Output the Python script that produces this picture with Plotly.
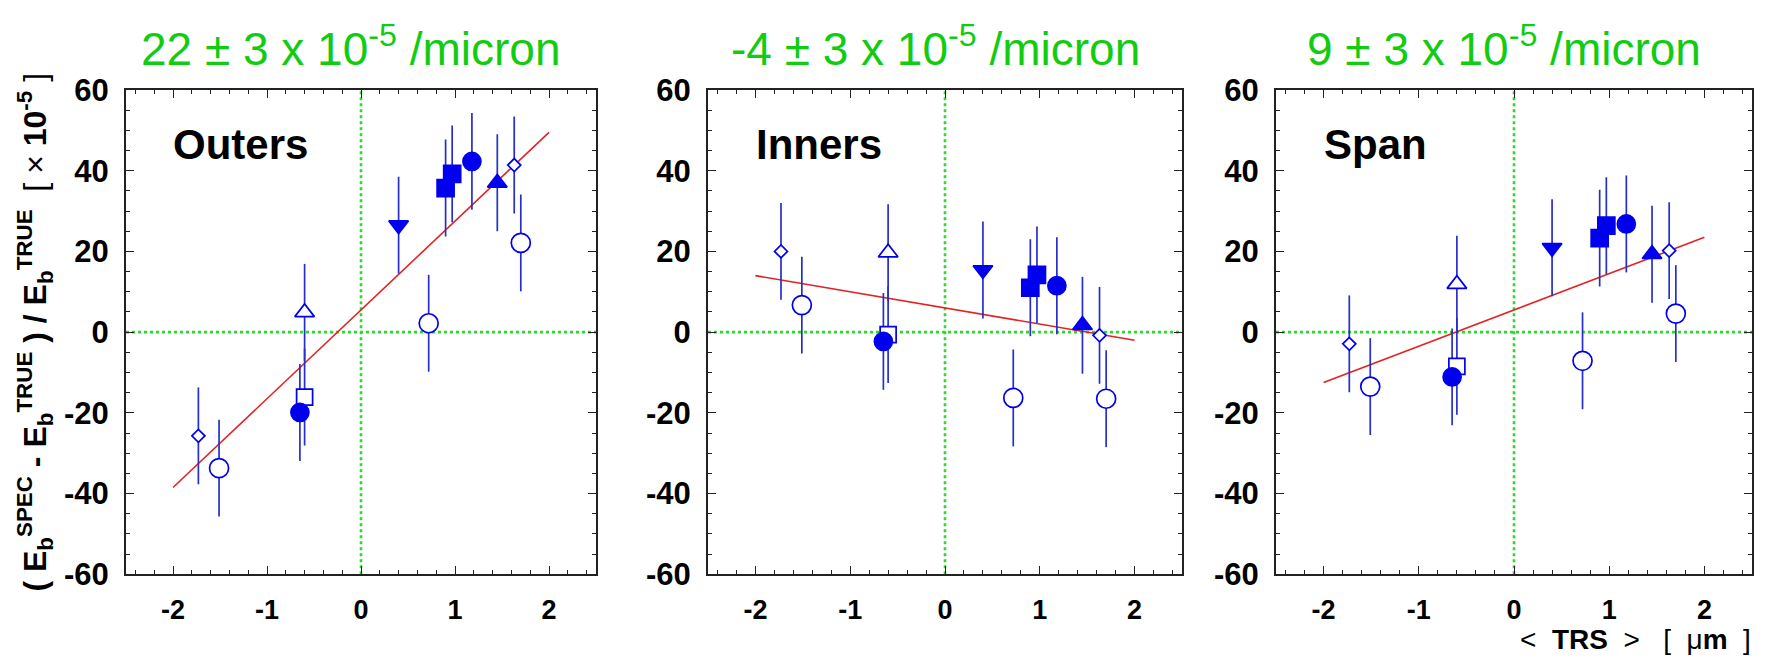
import plotly.graph_objects as go

W, H = 1766, 670

# Mean transverse position <TRS> [um] of each data set (shared by all panels)
trs = [-1.73, -1.51, -0.60, -0.60, -0.65, 0.40, 0.72, 0.90, 0.97, 1.18, 1.45, 1.63, 1.70]

# (E_spec - E_true) / E_true  [x 1e-5]
outers = [-25.7, -33.7, 4.9, -16.1, -19.9, 26.5, 2.2, 35.7, 39.2, 42.3, 37.0, 41.4, 22.1]
inners = [20.0, 6.7, 19.7, -0.6, -2.3, 15.4, -16.3, 11.0, 14.2, 11.5, 1.7, -0.8, -16.5]
span = [-2.9, -13.5, 11.9, -8.5, -11.1, 20.9, -7.1, 23.3, 26.4, 26.8, 19.3, 20.2, 4.6]

outers_err = [12.0, 12.0, 12.0, 12.0, 12.0, 12.0, 12.0, 12.0, 12.0, 12.0, 12.0, 12.0, 12.0]
inners_err = [12.0, 12.0, 12.0, 12.0, 12.0, 12.0, 12.0, 12.0, 12.0, 12.0, 12.0, 12.0, 12.0]
span_err = [12.0, 12.0, 12.0, 12.0, 12.0, 12.0, 12.0, 12.0, 12.0, 12.0, 12.0, 12.0, 12.0]

# Linear fits: slope [1e-5 / micron] and intercept
panel_names = ["Outers", "Inners", "Span"]
fit_slope = [22, -4, 9]
fit_slope_err = [3, 3, 3]
fit_intercept = [5.5, 6.0, 5.5]
fit_x = [-2.0, 2.0]

# Axis ticks (labels use a plain hyphen for negatives)
x_ticks = [-2, -1, 0, 1, 2]
x_ticklabels = ["-2", "-1", "0", "1", "2"]
y_ticks = [-60, -40, -20, 0, 20, 40, 60]
y_ticklabels = ["-60", "-40", "-20", "0", "20", "40", "60"]

# Marker style per data set
symbols = ["diamond", "circle", "triangle-up", "square", "circle", "triangle-down",
           "circle", "square", "square", "circle", "triangle-up", "diamond", "circle"]
filled = [False, False, False, False, True, True, False, True, True, True, True, False, False]
sizes = [10, 19, 17, 16, 18, 17, 19, 17, 17, 18, 17, 10, 19]

BLUE = "#0000ee"
BAR_BLUE = "#2630c8"
RED = "#e02424"
GREEN = "#2ed82e"
TITLE_GREEN = "#11cc11"
FONT = "Liberation Sans, Arial, sans-serif"

# panel frames in pixels
x_doms_px = [(126, 596), (708, 1182), (1276, 1752)]
y_dom_px = (77, 588)


def px_x(p):
    return p / W


def px_y(p):
    return 1 - p / H


fig = go.Figure()
datasets = [(outers, outers_err), (inners, inners_err), (span, span_err)]

annotations = []
shapes = []
layout_axes = {}

for i, ((vals, errs), name) in enumerate(zip(datasets, panel_names)):
    sfx = "" if i == 0 else str(i + 1)
    xa, ya = "x" + sfx, "y" + sfx

    # fit line
    fy = [fit_intercept[i] + fit_slope[i] * x for x in fit_x]
    fig.add_trace(go.Scatter(x=fit_x, y=fy, mode="lines",
                             line=dict(color=RED, width=1.6),
                             xaxis=xa, yaxis=ya, showlegend=False, hoverinfo="skip"))

    # measurements
    fig.add_trace(go.Scatter(
        x=trs, y=vals, mode="markers", xaxis=xa, yaxis=ya, showlegend=False,
        error_y=dict(type="data", array=errs, visible=True, color=BAR_BLUE,
                     thickness=1.7, width=0),
        marker=dict(symbol=symbols, size=sizes, opacity=1,
                    color=[BLUE if f else "white" for f in filled],
                    line=dict(color=BLUE, width=1.7)),
    ))

    # zero reference lines
    shapes.append(dict(type="line", xref=xa, yref=ya, x0=-2.5, x1=2.5, y0=0, y1=0,
                       line=dict(color=GREEN, width=2.6, dash="dot"), layer="below"))
    shapes.append(dict(type="line", xref=xa, yref=ya, x0=0, x1=0, y0=-60, y1=60,
                       line=dict(color=GREEN, width=2.6, dash="dot"), layer="below"))

    x0p, x1p = x_doms_px[i]
    axis_common = dict(showline=True, linecolor="#222222", linewidth=2, mirror="ticks",
                       ticks="inside", tickwidth=1.3, tickcolor="#222222",
                       showgrid=False, zeroline=False)
    layout_axes["xaxis" + sfx] = dict(
        axis_common, domain=[px_x(x0p), px_x(x1p)], anchor=ya, range=[-2.5, 2.5],
        tickvals=x_ticks, ticktext=x_ticklabels, ticklen=8,
        tickfont=dict(family=FONT, size=27, color="black", weight="bold"),
        ticklabelstandoff=10,
        minor=dict(dtick=0.2, tick0=0, ticks="inside", ticklen=4, tickwidth=1.1,
                   tickcolor="#222222", showgrid=False),
    )
    layout_axes["yaxis" + sfx] = dict(
        axis_common, domain=[px_y(y_dom_px[1]), px_y(y_dom_px[0])], anchor=xa,
        range=[-60, 60], tickvals=y_ticks, ticktext=y_ticklabels, ticklen=8,
        tickfont=dict(family=FONT, size=31, color="black", weight="bold"),
        ticklabelstandoff=9,
        minor=dict(dtick=5, tick0=0, ticks="inside", ticklen=4, tickwidth=1.1,
                   tickcolor="#222222", showgrid=False),
    )

    # panel name
    annotations.append(dict(xref=xa, yref=ya, x=-2.02, y=46.5, xanchor="left", yanchor="middle",
                            text="<b>%s</b>" % name, showarrow=False,
                            font=dict(family=FONT, size=42, color="black")))

    # fitted slope above each panel
    annotations.append(dict(xref="paper", yref="paper",
                            x=px_x((x0p + x1p) / 2 - 10), y=px_y(31),
                            xanchor="center", yanchor="middle", showarrow=False,
                            text="%d ± %d x 10<sup>-5</sup> /micron" % (fit_slope[i], fit_slope_err[i]),
                            font=dict(family=FONT, size=46, color=TITLE_GREEN)))

# y-axis title
annotations.append(dict(xref="paper", yref="paper", x=px_x(35), y=px_y(333),
                        xanchor="center", yanchor="middle", textangle=-90, showarrow=False,
                        text="<b>( E<sub>b</sub><sup>SPEC</sup> - E<sub>b</sub><sup>TRUE</sup> ) / "
                             "E<sub>b</sub><sup>TRUE</sup></b>  [ × <b>10<sup>-5</sup></b> ]",
                        font=dict(family=FONT, size=32, color="black")))

# x-axis title
annotations.append(dict(xref="paper", yref="paper", x=px_x(1752), y=px_y(657),
                        xanchor="right", yanchor="middle", showarrow=False, borderpad=0,
                        text="&lt;  <b>TRS</b>  &gt;   [  μ<b>m</b>  ]",
                        font=dict(family=FONT, size=28, color="black")))

fig.update_layout(
    width=W, height=H, margin=dict(l=0, r=0, t=0, b=0),
    paper_bgcolor="white", plot_bgcolor="white",
    annotations=annotations, shapes=shapes, showlegend=False,
    **layout_axes,
)

fig.write_html("out.html")
